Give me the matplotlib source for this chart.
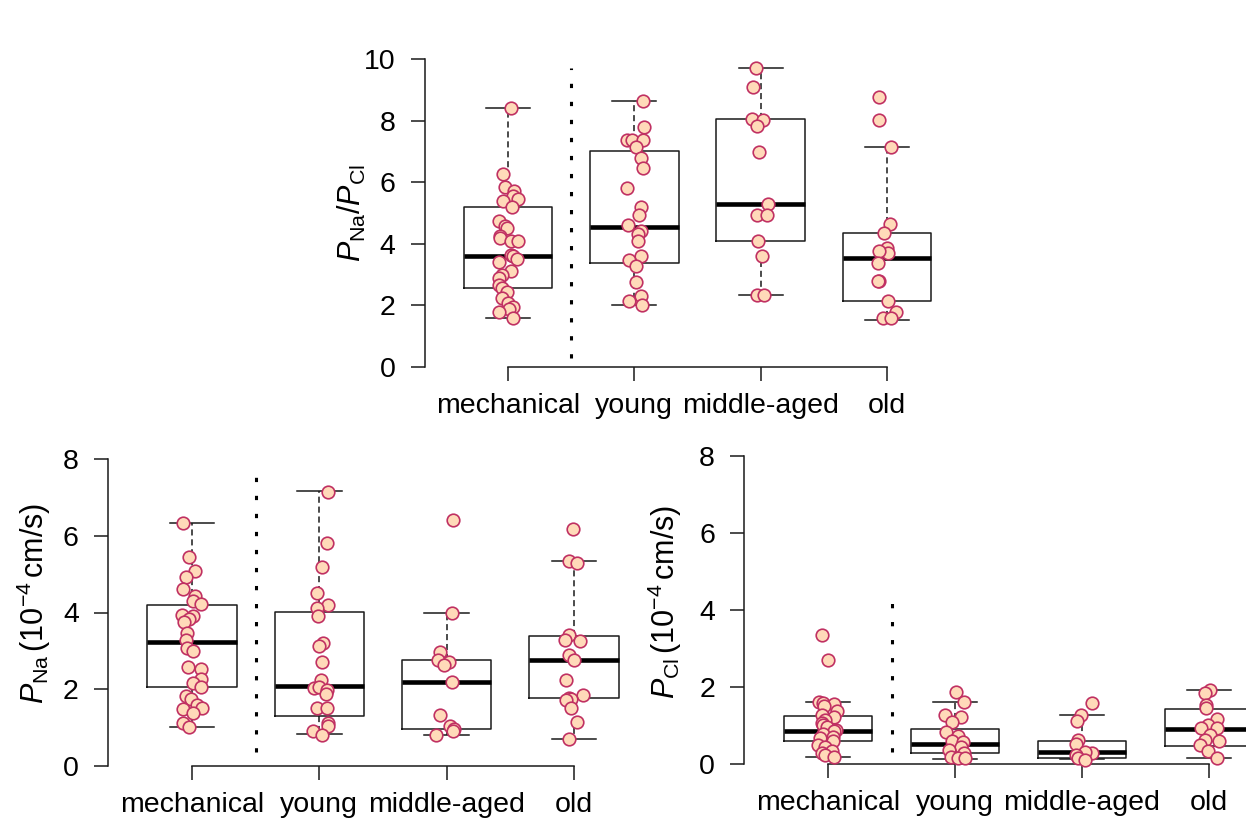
import matplotlib
matplotlib.use("Agg")
import matplotlib.pyplot as plt

plt.rcParams['font.family'] = ['Liberation Sans', 'DejaVu Sans']
plt.rcParams['mathtext.fontset'] = 'custom'
plt.rcParams['mathtext.rm'] = 'Liberation Sans'
plt.rcParams['mathtext.it'] = 'Liberation Sans:italic'

groups = ["mechanical", "young", "middle-aged", "old"]

# ---- P_Na / P_Cl ratio
ratio_mech = [8.4, 6.28, 5.85, 5.7, 5.55, 5.45, 5.4, 5.2, 4.75, 4.58, 4.52, 4.25, 4.18, 4.1, 4.08,
              3.65, 3.6, 3.5, 3.4, 3.12, 3.0, 2.88, 2.65, 2.55, 2.42, 2.25, 2.08, 1.95, 1.88, 1.78, 1.6]
ratio_young = [8.65, 7.8, 7.38, 7.38, 7.38, 7.15, 6.8, 6.45, 5.82, 5.2, 4.95, 4.62, 4.42, 4.32, 4.08,
               3.62, 3.48, 3.28, 2.75, 2.32, 2.15, 2.0]
ratio_mid = [9.7, 9.1, 8.05, 8.02, 7.82, 6.98, 5.3, 4.95, 4.95, 4.08, 3.62, 2.35, 2.35]
ratio_old = [8.78, 8.02, 7.15, 4.63, 4.34, 3.85, 3.69, 3.77, 3.39, 2.8, 2.78, 2.15, 1.8, 1.58, 1.58]

ratio_lo = [1.6, 2.0, 2.35, 1.53]
ratio_q1 = [2.55, 3.38, 4.08, 2.14]
ratio_med = [3.6, 4.55, 5.3, 3.55]
ratio_q3 = [5.2, 7.0, 8.05, 4.34]
ratio_hi = [8.4, 8.65, 9.7, 7.15]

# ---- P_Na (10^-4 cm/s)
pna_mech = [6.34, 5.44, 5.08, 4.93, 4.61, 4.43, 4.29, 4.22, 3.94, 3.92, 3.83, 3.76, 3.46, 3.28, 3.07,
            3.0, 2.59, 2.52, 2.26, 2.17, 2.05, 1.82, 1.75, 1.59, 1.52, 1.48, 1.37, 1.11, 1.01]
pna_young = [7.15, 5.8, 5.18, 4.52, 4.2, 4.13, 3.92, 3.2, 3.14, 2.72, 2.24, 2.02, 2.07, 1.98, 1.87,
             1.52, 1.52, 1.11, 1.03, 0.91, 0.81]
pna_mid = [6.41, 4.0, 2.96, 2.76, 2.7, 2.62, 2.2, 1.33, 1.05, 0.97, 0.92, 0.8]
pna_old = [6.17, 5.33, 5.3, 3.41, 3.28, 3.27, 2.89, 2.76, 2.24, 1.85, 1.78, 1.74, 1.72, 1.5, 1.14, 0.7]

pna_lo = [1.01, 0.83, 0.8, 0.7]
pna_q1 = [2.05, 1.31, 0.96, 1.76]
pna_med = [3.24, 2.09, 2.2, 2.76]
pna_q3 = [4.2, 4.02, 2.75, 3.39]
pna_hi = [6.34, 7.17, 4.0, 5.33]

# ---- P_Cl (10^-4 cm/s)
pcl_mech = [3.36, 2.71, 1.61, 1.58, 1.55, 1.51, 1.38, 1.28, 1.21, 1.15, 1.06, 1.02, 0.95, 0.89, 0.86,
            0.77, 0.71, 0.67, 0.6, 0.49, 0.45, 0.35, 0.28, 0.23, 0.17]
pcl_young = [1.88, 1.62, 1.28, 1.21, 1.1, 0.84, 0.73, 0.6, 0.56, 0.45, 0.36, 0.28, 0.19, 0.15, 0.16]
pcl_mid = [1.58, 1.28, 1.12, 0.62, 0.51, 0.28, 0.32, 0.23, 0.15, 0.1]
pcl_old = [1.91, 1.84, 1.54, 1.45, 1.17, 1.02, 0.93, 0.93, 0.76, 0.62, 0.6, 0.49, 0.35, 0.15]

pcl_lo = [0.17, 0.12, 0.12, 0.15]
pcl_q1 = [0.6, 0.28, 0.15, 0.47]
pcl_med = [0.87, 0.51, 0.3, 0.92]
pcl_q3 = [1.25, 0.9, 0.61, 1.42]
pcl_hi = [1.6, 1.61, 1.28, 1.93]

# horizontal jitter of the points (fraction of group spacing)
jit_ratio = [
    [0.02, -0.04, -0.02, 0.05, 0.04, 0.08, -0.04, 0.03, -0.07, -0.02, -0.01, -0.06, -0.06, 0.02, 0.08,
     0.02, 0.04, 0.07, -0.07, 0.02, -0.05, -0.07, -0.07, -0.05, -0.01, -0.05, 0.0, 0.04, 0.01, -0.07, 0.04],
    [0.07, 0.08, -0.06, -0.02, 0.07, 0.01, 0.05, 0.07, -0.06, 0.05, 0.04, -0.05, 0.05, 0.03, 0.03,
     0.05, -0.04, 0.01, 0.01, 0.05, -0.04, 0.06],
    [-0.04, -0.06, -0.07, 0.02, -0.03, -0.01, 0.06, -0.03, 0.05, -0.02, 0.01, -0.03, 0.03],
    [-0.06, -0.06, 0.03, 0.02, -0.02, 0.0, 0.01, -0.06, -0.07, -0.06, -0.07, 0.01, 0.07, -0.03, 0.03],
]
jit_pna = [
    [-0.07, -0.02, 0.02, -0.05, -0.07, 0.02, 0.01, 0.07, -0.08, 0.01, -0.02, -0.06, -0.04, -0.05, -0.04,
     0.01, -0.03, 0.07, 0.07, 0.01, 0.07, -0.05, -0.01, 0.04, 0.08, -0.07, 0.01, -0.07, -0.02],
    [0.07, 0.06, 0.02, -0.02, 0.07, -0.02, -0.01, 0.03, 0.0, 0.02, 0.01, -0.04, 0.0, 0.06, 0.05,
     -0.02, 0.06, 0.07, 0.07, -0.05, 0.02],
    [0.05, 0.04, -0.05, -0.07, 0.02, -0.02, 0.04, -0.05, 0.03, 0.06, 0.05, -0.08],
    [-0.01, -0.04, 0.02, -0.04, -0.07, 0.05, -0.04, 0.0, -0.06, 0.07, -0.04, -0.02, -0.06, -0.02, 0.02, -0.04],
]
jit_pcl = [
    [-0.05, 0.0, -0.07, -0.04, 0.05, -0.03, 0.07, -0.05, 0.05, -0.02, -0.05, -0.04, -0.01, 0.06, 0.05,
     -0.04, 0.04, -0.06, 0.04, -0.08, -0.02, 0.03, -0.05, -0.02, 0.05],
    [0.01, 0.07, -0.08, 0.05, -0.02, -0.07, 0.02, -0.02, 0.06, 0.05, -0.05, 0.07, -0.03, 0.02, 0.08],
    [0.08, -0.01, -0.04, -0.03, -0.05, 0.08, 0.02, -0.05, -0.03, 0.02],
    [0.01, -0.03, -0.02, -0.02, 0.06, -0.01, -0.06, 0.06, 0.01, -0.03, 0.08, -0.07, -0.01, 0.06],
]

FILL = '#FFDAB9'
EDGE = '#C03062'
INK = '#1a1a1a'


def panel(ax, data, jit, lo, q1, med, q3, hi, ymax, sep, ylabel, label_xy):
    pos = [1, 2, 3, 4]
    stats = []
    for i in range(4):
        stats.append(dict(whislo=lo[i], q1=q1[i], med=med[i], q3=q3[i], whishi=hi[i], fliers=[]))
    parts = ax.bxp(stats, positions=pos, widths=0.7, capwidths=0.35, showfliers=False,
                   patch_artist=False, manage_ticks=False,
                   boxprops=dict(color=INK, lw=1.1),
                   medianprops=dict(color='black', lw=3.3, solid_capstyle='butt'),
                   whiskerprops=dict(color=INK, lw=1.1, linestyle=(0, (4, 2.5))),
                   capprops=dict(color=INK, lw=1.1))
    for key in parts:
        for art in parts[key]:
            art.set_clip_on(False)
    for i in range(4):
        xs = [pos[i] + d for d in jit[i]]
        ax.scatter(xs, data[i], s=82, facecolor=FILL, edgecolor=EDGE, linewidth=1.2,
                   zorder=3, clip_on=False)
    # separator between the mechanical group and the age groups
    ax.plot([1.5, 1.5], sep, color='black', lw=2.2, linestyle=(0, (1.4, 4.5)),
            solid_capstyle='butt', clip_on=False)

    ax.set_xlim(0.34, 4.66)
    ax.set_ylim(0, ymax)
    ax.set_yticks(range(0, ymax + 1, 2))
    ax.set_xticks(pos)
    ax.set_xticklabels(groups)
    for s in ['top', 'right']:
        ax.spines[s].set_visible(False)
    ax.spines['left'].set_bounds(0, ymax)
    ax.spines['bottom'].set_bounds(1, 4)
    for s in ['left', 'bottom']:
        ax.spines[s].set_color(INK)
        ax.spines[s].set_linewidth(1.1)
    ax.tick_params(axis='y', length=10, width=1.1, pad=11, labelsize=20.5, color=INK)
    ax.tick_params(axis='x', length=10, width=1.1, pad=9, labelsize=20.5, color=INK)
    ax.set_ylabel(ylabel, fontsize=22)
    ax.yaxis.set_label_coords(*label_xy)
    ax.patch.set_alpha(0)


fig = plt.figure(figsize=(12.46, 8.18), dpi=100)

ax_top = fig.add_axes([424.6 / 1246, 451 / 818, 545.8 / 1246, 308 / 818])
panel(ax_top, [ratio_mech, ratio_young, ratio_mid, ratio_old], jit_ratio,
      ratio_lo, ratio_q1, ratio_med, ratio_q3, ratio_hi, 10, [0.3, 9.7],
      r'$P_{\mathrm{Na}}/P_{\mathrm{Cl}}$', (-0.104, 0.5))

ax_na = fig.add_axes([108 / 1246, 52 / 818, 550 / 1246, 307 / 818])
panel(ax_na, [pna_mech, pna_young, pna_mid, pna_old], jit_pna,
      pna_lo, pna_q1, pna_med, pna_q3, pna_hi, 8, [0.37, 7.85],
      r'$P_{\mathrm{Na}}\,(10^{-4}\,\mathrm{cm/s})$', (-0.1, 0.53))

ax_cl = fig.add_axes([744.2 / 1246, 54 / 818, 548.6 / 1246, 308 / 818])
panel(ax_cl, [pcl_mech, pcl_young, pcl_mid, pcl_old], jit_pcl,
      pcl_lo, pcl_q1, pcl_med, pcl_q3, pcl_hi, 8, [0.32, 4.36],
      r'$P_{\mathrm{Cl}}\,(10^{-4}\,\mathrm{cm/s})$', (-0.11, 0.525))

fig.savefig('out.png', dpi=100)
